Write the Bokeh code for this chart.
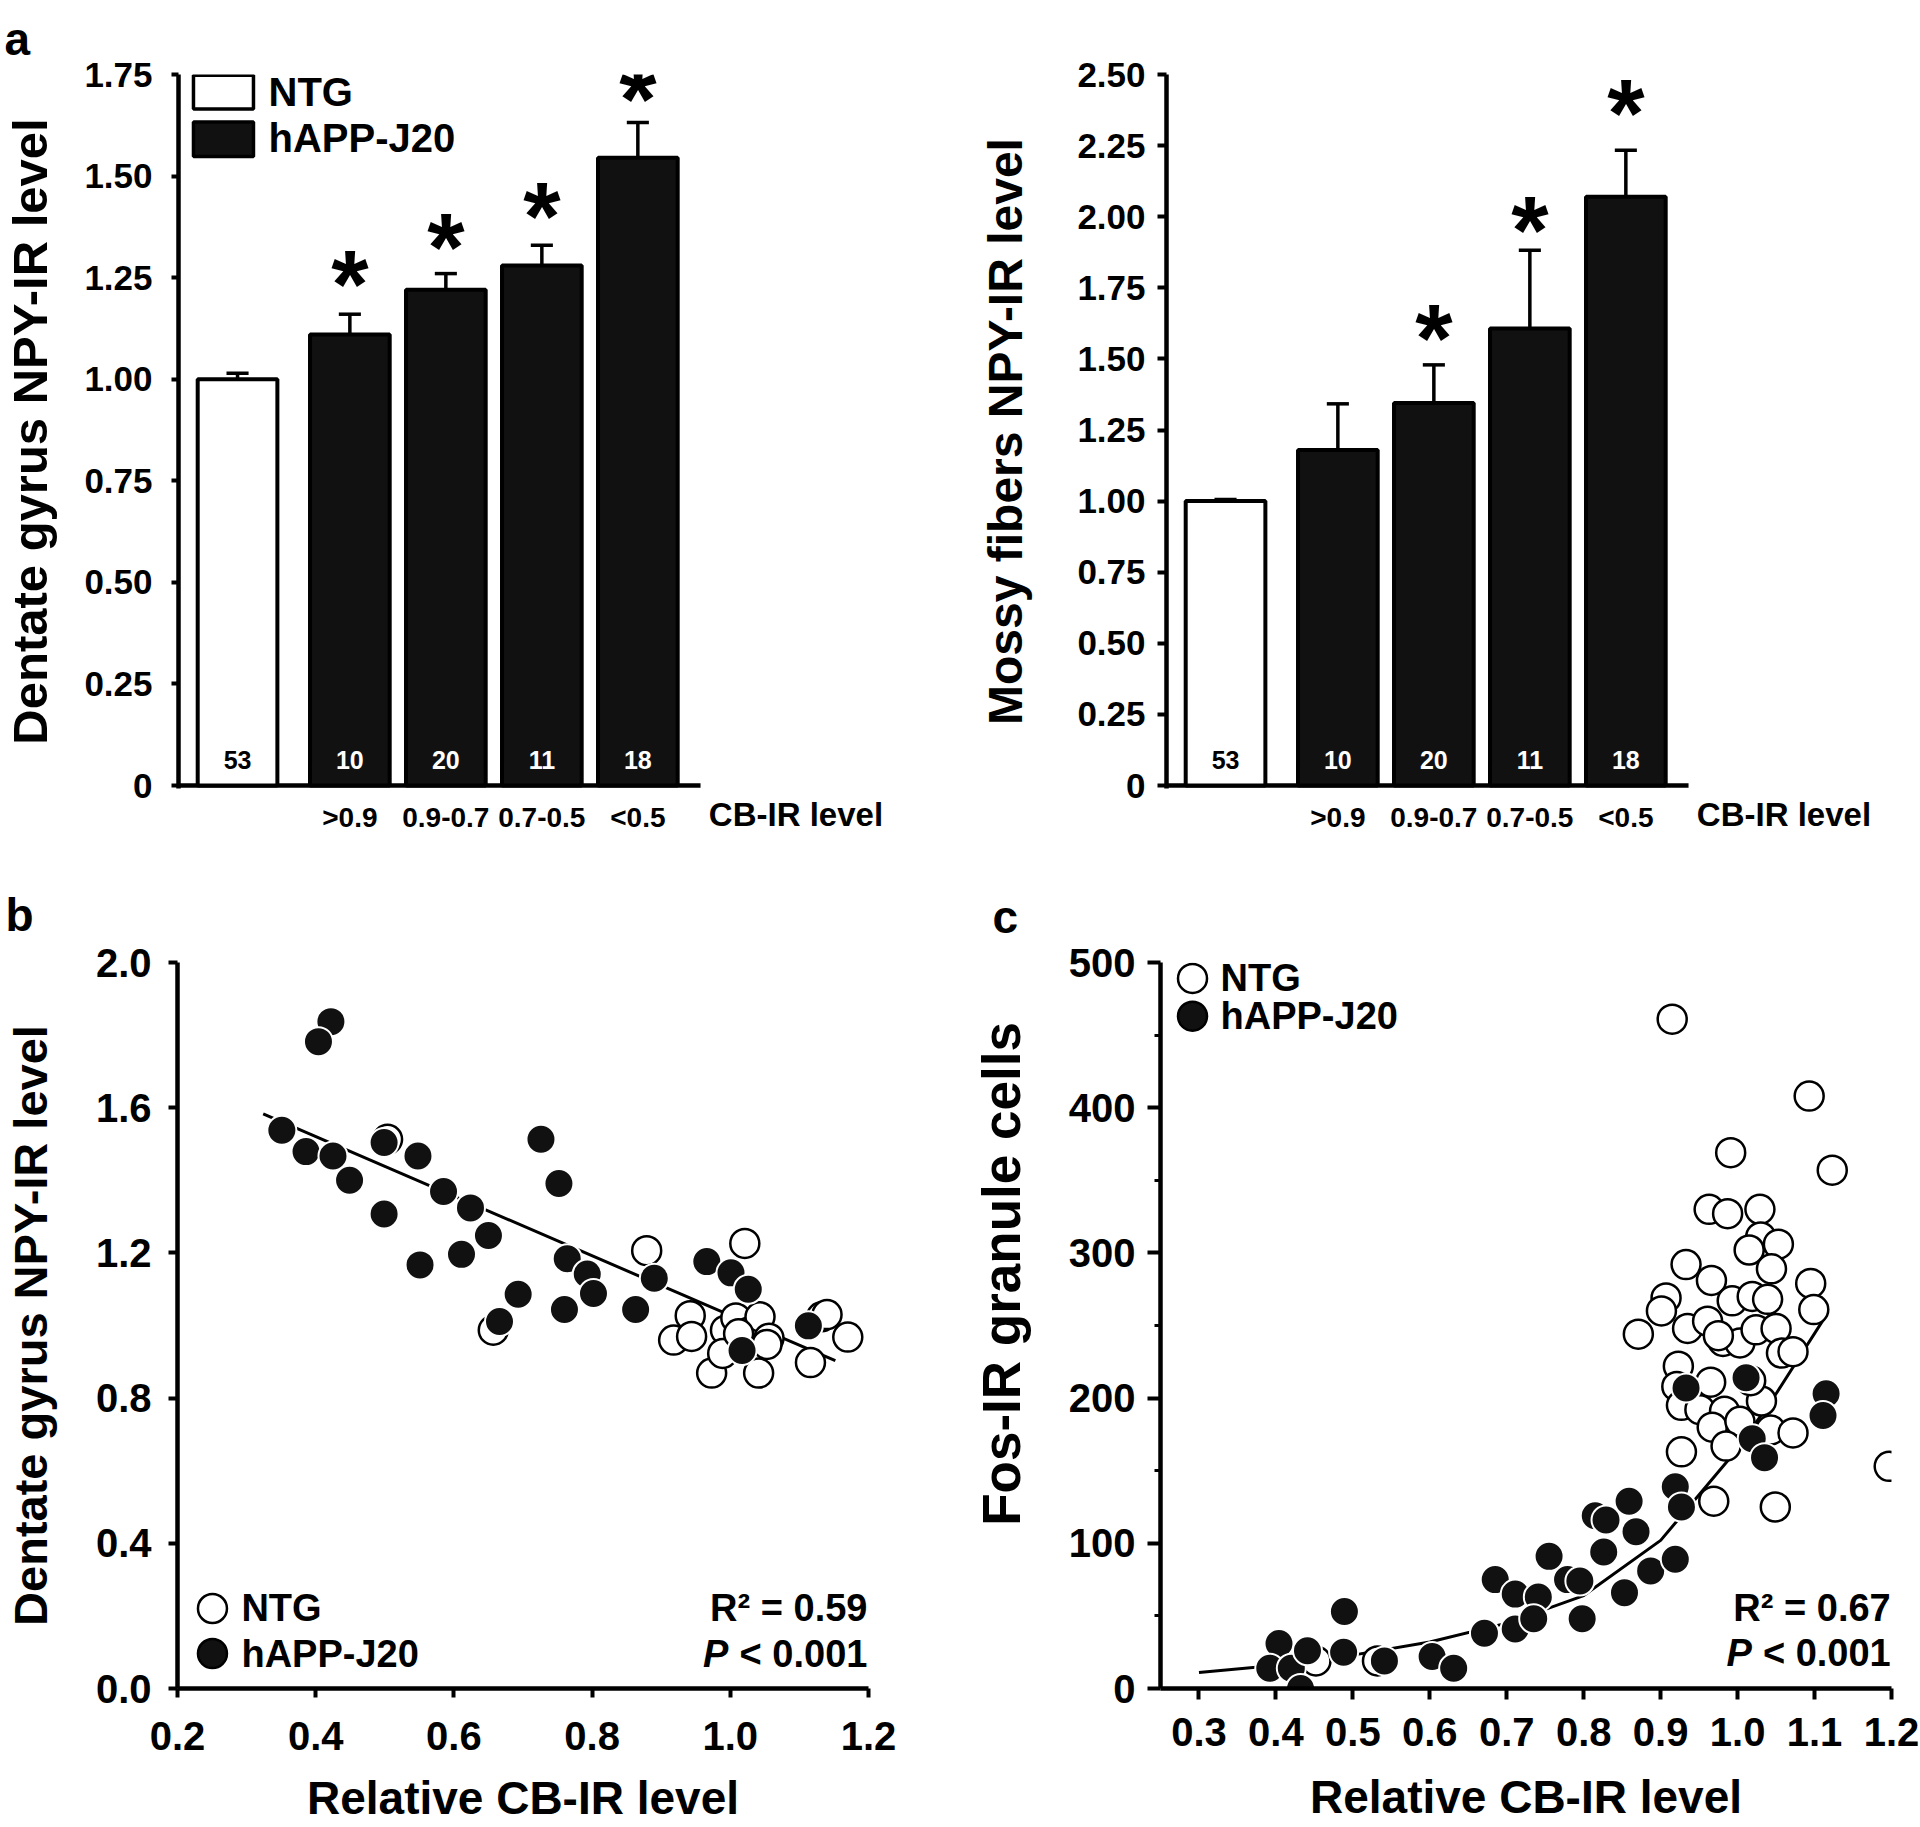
from bokeh.plotting import figure
from bokeh.layouts import column, row
from bokeh.models import FixedTicker, NumeralTickFormatter, Range1d, LinearAxis
from bokeh.core.properties import value
from bokeh.embed import file_html
from bokeh.resources import INLINE

FONT = "Liberation Sans"

# ---------------- data ----------------
# panel a: bar charts
groups = ["NTG", "hAPP-J20", "hAPP-J20", "hAPP-J20", "hAPP-J20"]
cb_levels = ["", ">0.9", "0.9-0.7", "0.7-0.5", "<0.5"]
n_mice = ["53", "10", "20", "11", "18"]
dg_npy_mean = [1.00, 1.11, 1.22, 1.28, 1.545]
dg_npy_sem = [0.015, 0.05, 0.04, 0.05, 0.087]
dg_star_y = [None, 1.252, 1.345, 1.42, 1.708]
mf_npy_mean = [1.00, 1.18, 1.345, 1.607, 2.07]
mf_npy_sem = [0.006, 0.162, 0.134, 0.275, 0.164]
mf_star_y = [None, None, 1.60, 1.98, 2.39]

# panel b: Dentate gyrus NPY-IR vs relative CB-IR
b_ntg_x = [0.879, 1.021, 0.942, 0.918, 0.944, 0.973, 0.993, 1.008, 0.989, 1.027,
           1.043, 1.056, 1.053, 1.041, 1.116, 1.132, 1.170, 0.657, 0.504, 1.012, 1.140]
b_ntg_y = [1.206, 1.226, 1.027, 0.960, 0.970, 0.869, 0.987, 1.021, 0.923, 0.982,
           1.024, 0.965, 0.948, 0.869, 0.898, 1.024, 0.968, 0.987, 1.513, 0.977, 1.030]
b_app_x = [0.422, 0.404, 0.351, 0.386, 0.425, 0.449, 0.499, 0.548, 0.499, 0.551,
           0.585, 0.624, 0.611, 0.650, 0.666, 0.693, 0.726, 0.752, 0.764, 0.760,
           0.793, 0.802, 0.863, 0.890, 0.966, 1.001, 1.026, 1.017, 1.113]
b_app_y = [1.837, 1.782, 1.538, 1.479, 1.467, 1.400, 1.504, 1.467, 1.307, 1.167,
           1.369, 1.324, 1.196, 1.248, 1.011, 1.086, 1.513, 1.391, 1.184, 1.044,
           1.142, 1.088, 1.044, 1.130, 1.176, 1.145, 1.100, 0.931, 0.999]
b_fit_x = [0.324, 1.152]
b_fit_y = [1.583, 0.903]

# panel c: Fos-IR granule cells vs relative CB-IR
c_ntg_x = [0.915, 1.093, 1.123, 0.991, 1.197, 0.963, 0.987, 1.029, 1.030, 1.053,
           0.933, 1.015, 1.044, 0.966, 1.095, 0.907, 0.901, 0.993, 1.019, 1.039,
           1.099, 0.871, 0.935, 0.961, 0.981, 1.003, 1.024, 1.050, 1.057, 1.072,
           0.923, 0.921, 0.965, 0.927, 0.951, 0.983, 0.967, 1.003, 1.031, 1.043,
           1.072, 0.985, 0.927, 0.969, 1.049, 0.452, 0.532, 0.975, 1.017]
c_ntg_y = [461, 408, 357, 369, 153, 330, 327, 330, 311, 306,
           292, 302, 289, 281, 279, 269, 260, 267, 270, 268,
           261, 244, 248, 253, 239, 238, 247, 248, 231, 232,
           222, 208, 211, 195, 192, 191, 180, 184, 198, 178,
           176, 167, 163, 129, 125, 19, 19, 243, 212]
c_app_x = [0.933, 1.011, 1.115, 1.111, 1.019, 1.035, 0.919, 0.927, 0.815, 0.859,
           0.829, 0.868, 0.826, 0.887, 0.919, 0.853, 0.755, 0.685, 0.711, 0.741,
           0.779, 0.795, 0.671, 0.711, 0.735, 0.798, 0.489, 0.488, 0.404, 0.392,
           0.420, 0.432, 0.441, 0.541, 0.603, 0.631]
c_app_y = [207, 214, 203, 188, 172, 159, 139, 125, 119, 129,
           116, 108, 94, 81, 89, 66, 91, 75, 65, 63,
           75, 74, 38, 41, 48, 48, 53, 25, 31, 14,
           14, 0, 26, 19, 22, 14]
c_fit_x = [0.30, 0.40, 0.50, 0.60, 0.70, 0.80, 0.90, 1.00, 1.05, 1.115]
c_fit_y = [11, 16, 23, 32, 45, 64, 102, 165, 203, 257]

# ---------------- style helpers ----------------
BAR_X = [0.0, 1.17, 2.17, 3.17, 4.17]
BAR_W = 0.83
X_START, X_AXIS_END, X_END = -0.615, 4.823, 6.906
CB_X = 5.817


def base_fig(w, h, left, right, top, bottom, xr, yr):
    p = figure(width=w, height=h, x_range=xr, y_range=yr,
               output_backend="svg", toolbar_location=None,
               min_border_left=left, min_border_right=right,
               min_border_top=top, min_border_bottom=bottom)
    p.xgrid.grid_line_color = None
    p.ygrid.grid_line_color = None
    p.outline_line_color = None
    p.background_fill_color = "white"
    p.border_fill_color = "white"
    return p


def style_axis(ax, tick_out, lab_size, lab_standoff, title_size, title_standoff, lw=4.5):
    ax.axis_line_width = lw
    ax.axis_line_color = "black"
    ax.major_tick_line_width = 4
    ax.major_tick_line_color = "black" if tick_out > 0 else None
    ax.major_tick_out = tick_out
    ax.major_tick_in = 0
    ax.minor_tick_line_color = None
    ax.major_label_text_font = FONT
    ax.major_label_text_font_style = "bold"
    ax.major_label_text_font_size = lab_size
    ax.major_label_text_color = "black"
    ax.major_label_standoff = lab_standoff
    ax.axis_label_text_font = FONT
    ax.axis_label_text_font_style = "bold"
    ax.axis_label_text_font_size = title_size
    ax.axis_label_text_color = "black"
    ax.axis_label_standoff = title_standoff


def panel_letter(p, txt, offset, standoff, size="46px"):
    p.title.text = txt
    p.title.align = "left"
    p.title.offset = offset
    p.title.standoff = standoff
    p.title.vertical_align = "top"
    p.title.text_font = FONT
    p.title.text_font_style = "bold"
    p.title.text_font_size = size
    p.title.text_color = "black"


def bar_panel(means, sems, star_y, ylabel, y_end, yticks, w, left, right, top, frame_h, px_per_unit,
              y_tick_out, y_lab_standoff, y_title_standoff, title_size, legend=False):
    bottom = 72
    h = top + frame_h + bottom
    y_start = -3.0 / px_per_unit
    p = base_fig(w, h, left, right, top, bottom, Range1d(X_START, X_END), Range1d(y_start, y_end))
    fills = ["white" if g == "NTG" else "#111111" for g in groups]
    # x axis baseline (axis line stops at the last bar)
    p.segment(x0=[X_START], y0=[0], x1=[X_AXIS_END], y1=[0], line_color="black", line_width=4.5)
    p.vbar(x=BAR_X, top=means, width=BAR_W, fill_color=fills, line_color="black", line_width=4)
    tops = [m + s for m, s in zip(means, sems)]
    p.segment(x0=BAR_X, y0=means, x1=BAR_X, y1=tops, line_color="black", line_width=3.5)
    p.segment(x0=[x - 0.115 for x in BAR_X], y0=tops, x1=[x + 0.115 for x in BAR_X], y1=tops,
              line_color="black", line_width=3.5)
    sx = [x for x, s in zip(BAR_X, star_y) if s is not None]
    sy = [s for s in star_y if s is not None]
    p.text(x=sx, y=sy, text=["*"] * len(sx), text_font=value(FONT), text_font_style="bold",
           text_font_size="96px", text_align="center", text_baseline="alphabetic",
           y_offset=7, text_color="black")
    txt_cols = ["black" if g == "NTG" else "white" for g in groups]
    p.text(x=BAR_X, y=[0] * 5, text=n_mice, text_font=value(FONT), text_font_style="bold",
           text_font_size="25px", text_align="center", text_baseline="middle",
           y_offset=-26, text_color=txt_cols)
    # axes
    p.yaxis.ticker = FixedTicker(ticks=yticks)
    p.yaxis.formatter = NumeralTickFormatter(format="0.00")
    p.yaxis.major_label_overrides = {0: "0"}
    p.yaxis.axis_label = ylabel
    style_axis(p.yaxis[0], y_tick_out, "35px", y_lab_standoff, title_size, y_title_standoff)
    p.xaxis.ticker = FixedTicker(ticks=BAR_X)
    p.xaxis.major_label_overrides = {x: c for x, c in zip(BAR_X, cb_levels)}
    style_axis(p.xaxis[0], 0, "28px", 13, "33px", 5)
    p.xaxis.axis_line_color = None
    cb_axis = LinearAxis(ticker=FixedTicker(ticks=[CB_X]),
                         major_label_overrides={CB_X: "CB-IR level"})
    style_axis(cb_axis, 0, "33px", -40, "33px", 0)
    cb_axis.axis_line_color = None
    p.add_layout(cb_axis, "below")
    if legend:
        p.quad(left=[-0.459, -0.459], right=[0.166, 0.166], bottom=[1.665, 1.548],
               top=[1.748, 1.633], fill_color=["white", "#111111"], line_color="black",
               line_width=3.5)
        p.text(x=[0.3225, 0.3225], y=[1.706, 1.5935], text=["NTG", "hAPP-J20"],
               text_font=value(FONT), text_font_style="bold", text_font_size="40px",
               text_align="left", text_baseline="middle", text_color="black")
    return p


# ---------------- panel a (two bar charts) ----------------
pA = bar_panel(dg_npy_mean, dg_npy_sem, dg_star_y, "Dentate gyrus NPY-IR level", 1.75,
               [0, 0.25, 0.5, 0.75, 1.0, 1.25, 1.5, 1.75], 966, 178, 66, 69, 719, 409.14,
               7, 19, 24, "49px", legend=True)
panel_letter(pA, "a", -174, 15)

pB = bar_panel(mf_npy_mean, mf_npy_sem, mf_star_y, "Mossy fibers NPY-IR level", 2.5,
               [0, 0.25, 0.5, 0.75, 1.0, 1.25, 1.5, 1.75, 2.0, 2.25, 2.5], 954, 200, 32, 74, 714,
               284.4, 9, 12, 42, "48px")

# ---------------- panel b ----------------
pC = base_fig(960, 967, 176, 92, 102, 139, Range1d(0.2, 1.2), Range1d(0, 2.0))
pC.line(b_fit_x, b_fit_y, line_color="black", line_width=3)
pC.scatter(b_ntg_x, b_ntg_y, marker="circle", size=29, fill_color="white",
           line_color="black", line_width=2.5)
pC.scatter(b_app_x, b_app_y, marker="circle", size=29, fill_color="#111111",
           line_color="white", line_width=2)
pC.scatter([0.2506, 0.2506], [0.2204, 0.0964], marker="circle", size=29,
           fill_color=["white", "#111111"], line_color="black", line_width=2.5)
pC.text(x=[0.2925, 0.2925], y=[0.2204, 0.0964], text=["NTG", "hAPP-J20"],
        text_font=value(FONT), text_font_style="bold", text_font_size="38px",
        text_align="left", text_baseline="middle", text_color="black")
pC.text(x=[1.1985, 1.1985], y=[0.2204, 0.0964], text=["R\u00b2 = 0.59", "< 0.001"],
        text_font=value(FONT), text_font_style="bold", text_font_size="38px",
        text_align="right", text_baseline="middle", text_color="black")
pC.text(x=[1.1985], y=[0.0964], text=["P"], x_offset=-139,
        text_font=value(FONT), text_font_style="bold italic", text_font_size="38px",
        text_align="right", text_baseline="middle", text_color="black")
pC.yaxis.ticker = FixedTicker(ticks=[0, 0.4, 0.8, 1.2, 1.6, 2.0])
pC.yaxis.formatter = NumeralTickFormatter(format="0.0")
pC.yaxis.axis_label = "Dentate gyrus NPY-IR level"
style_axis(pC.yaxis[0], 9, "40px", 17, "47px", 36)
pC.xaxis.ticker = FixedTicker(ticks=[0.2, 0.4, 0.6, 0.8, 1.0, 1.2])
pC.xaxis.formatter = NumeralTickFormatter(format="0.0")
pC.xaxis.axis_label = "Relative CB-IR level"
style_axis(pC.xaxis[0], 9, "40px", 24, "46px", 19)
panel_letter(pC, "b", -172, 40)

# ---------------- panel c ----------------
pD = base_fig(960, 967, 200, 29, 99, 138, Range1d(0.25, 1.2), Range1d(0, 500))
pD.line(c_fit_x, c_fit_y, line_color="black", line_width=3)
pD.scatter(c_ntg_x, c_ntg_y, marker="circle", size=29, fill_color="white",
           line_color="black", line_width=2.5)
pD.scatter(c_app_x, c_app_y, marker="circle", size=29, fill_color="#111111",
           line_color="white", line_width=2)
pD.scatter([0.2916, 0.2916], [489, 463], marker="circle", size=29,
           fill_color=["white", "#111111"], line_color="black", line_width=2.5)
pD.text(x=[0.328, 0.328], y=[489, 463], text=["NTG", "hAPP-J20"],
        text_font=value(FONT), text_font_style="bold", text_font_size="38px",
        text_align="left", text_baseline="middle", text_color="black")
pD.text(x=[1.199, 1.199], y=[55.5, 24.7], text=["R\u00b2 = 0.67", "< 0.001"],
        text_font=value(FONT), text_font_style="bold", text_font_size="38px",
        text_align="right", text_baseline="middle", text_color="black")
pD.text(x=[1.199], y=[24.7], text=["P"], x_offset=-139,
        text_font=value(FONT), text_font_style="bold italic", text_font_size="38px",
        text_align="right", text_baseline="middle", text_color="black")
pD.yaxis.ticker = FixedTicker(ticks=[0, 100, 200, 300, 400, 500],
                              minor_ticks=[50, 150, 250, 350, 450])
pD.yaxis.axis_label = "\u00a0" * 7 + "Fos-IR granule cells"
style_axis(pD.yaxis[0], 13, "40px", 12, "53px", 35)
pD.yaxis.minor_tick_line_color = "black"
pD.yaxis.minor_tick_line_width = 3
pD.yaxis.minor_tick_out = 6
pD.yaxis.minor_tick_in = 0
pD.xaxis.ticker = FixedTicker(ticks=[0.3, 0.4, 0.5, 0.6, 0.7, 0.8, 0.9, 1.0, 1.1, 1.2])
pD.xaxis.formatter = NumeralTickFormatter(format="0.0")
pD.xaxis.axis_label = "Relative CB-IR level"
style_axis(pD.xaxis[0], 11, "40px", 18, "46px", 22)
panel_letter(pD, "c", -168, 36)

layout = column(row(pA, pB), row(pC, pD))
open("out.html", "w").write(file_html(layout, INLINE))
